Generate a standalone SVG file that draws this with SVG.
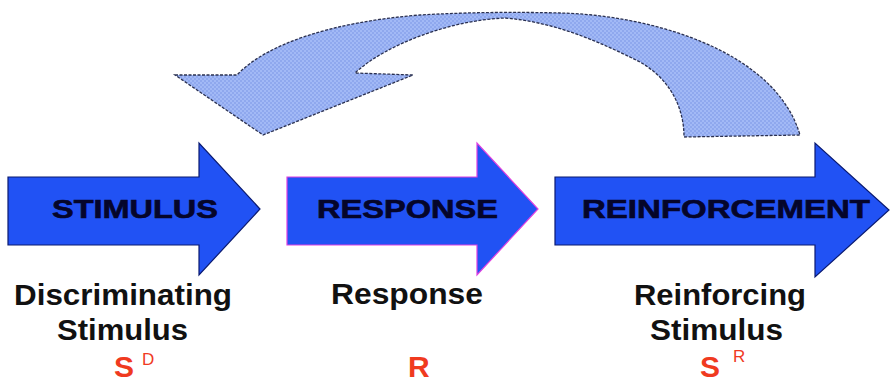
<svg xmlns="http://www.w3.org/2000/svg" width="890" height="383" viewBox="0 0 890 383">
<defs>
<pattern id="chk" width="4" height="4" patternUnits="userSpaceOnUse">
<rect width="4" height="4" fill="#a2b9f6"/>
<rect width="2" height="2" fill="#8fa8ee"/>
<rect x="2" y="2" width="2" height="2" fill="#8fa8ee"/>
</pattern>
<style>
.arr{fill:#2152f4;stroke:#0a1a70;stroke-width:1.2;stroke-linejoin:miter}
.arr2{fill:#2152f4;stroke:#e040e0;stroke-width:1.2}
.lbl{font-family:"Liberation Sans",Arial,sans-serif;font-weight:bold;font-size:25px;fill:#05052a;text-anchor:middle;stroke:#05052a;stroke-width:0.6}
.cap{font-family:"Liberation Sans",Arial,sans-serif;font-weight:bold;font-size:29px;fill:#111;text-anchor:middle}
.red{font-family:"Liberation Sans",Arial,sans-serif;font-weight:bold;fill:#f03a1f}
.sup{font-family:"Liberation Sans",Arial,sans-serif;font-weight:normal;fill:#f03a1f}
.curve{fill:url(#chk);stroke:#2a3050;stroke-width:1.3;stroke-dasharray:3 1.5}
</style>
</defs>
<rect width="890" height="383" fill="#ffffff"/>
<g id="connectors">
<path class="curve" d="M175,75 L237,75 C265,45 330,22 420,15 C470,12 520,12 560,13 C650,15 775,50 800,135 L684,137 C684,105 668,78 640,62 C600,42 555,22 505,18 C450,20 385,45 355,73 L413,75 L263,135 Z"/>
</g>
<g id="stimulus">
<polygon class="arr" points="8,177 199,177 199,143 260,209 199,275 199,245 8,245"/>
<text class="lbl" x="135" y="218" textLength="166" lengthAdjust="spacingAndGlyphs">STIMULUS</text>
</g>
<g id="response">
<polygon class="arr2" points="287,177 477,177 477,143 538,209 477,275 477,245 287,245"/>
<text class="lbl" x="407.5" y="218" textLength="181" lengthAdjust="spacingAndGlyphs">RESPONSE</text>
</g>
<g id="reinforcement">
<polygon class="arr" points="555,177 815,177 815,143 889,210 815,277 815,245 555,245"/>
<text class="lbl" x="726" y="218" textLength="288" lengthAdjust="spacingAndGlyphs">REINFORCEMENT</text>
</g>
<g id="label-sd">
<text class="cap" x="123" y="305" textLength="218" lengthAdjust="spacingAndGlyphs">Discriminating</text>
<text class="cap" x="122.5" y="340" textLength="131" lengthAdjust="spacingAndGlyphs">Stimulus</text>
<text class="red" x="114" y="377" font-size="30">S</text>
<text class="sup" x="142" y="365" font-size="17">D</text>
</g>
<g id="label-r">
<text class="cap" x="407" y="304" textLength="152" lengthAdjust="spacingAndGlyphs">Response</text>
<text class="red" x="408" y="377" font-size="30">R</text>
</g>
<g id="label-sr">
<text class="cap" x="720" y="305" textLength="172" lengthAdjust="spacingAndGlyphs">Reinforcing</text>
<text class="cap" x="716.5" y="340" textLength="133" lengthAdjust="spacingAndGlyphs">Stimulus</text>
<text class="red" x="700" y="377" font-size="30">S</text>
<text class="sup" x="733" y="362" font-size="17">R</text>
</g>
</svg>
